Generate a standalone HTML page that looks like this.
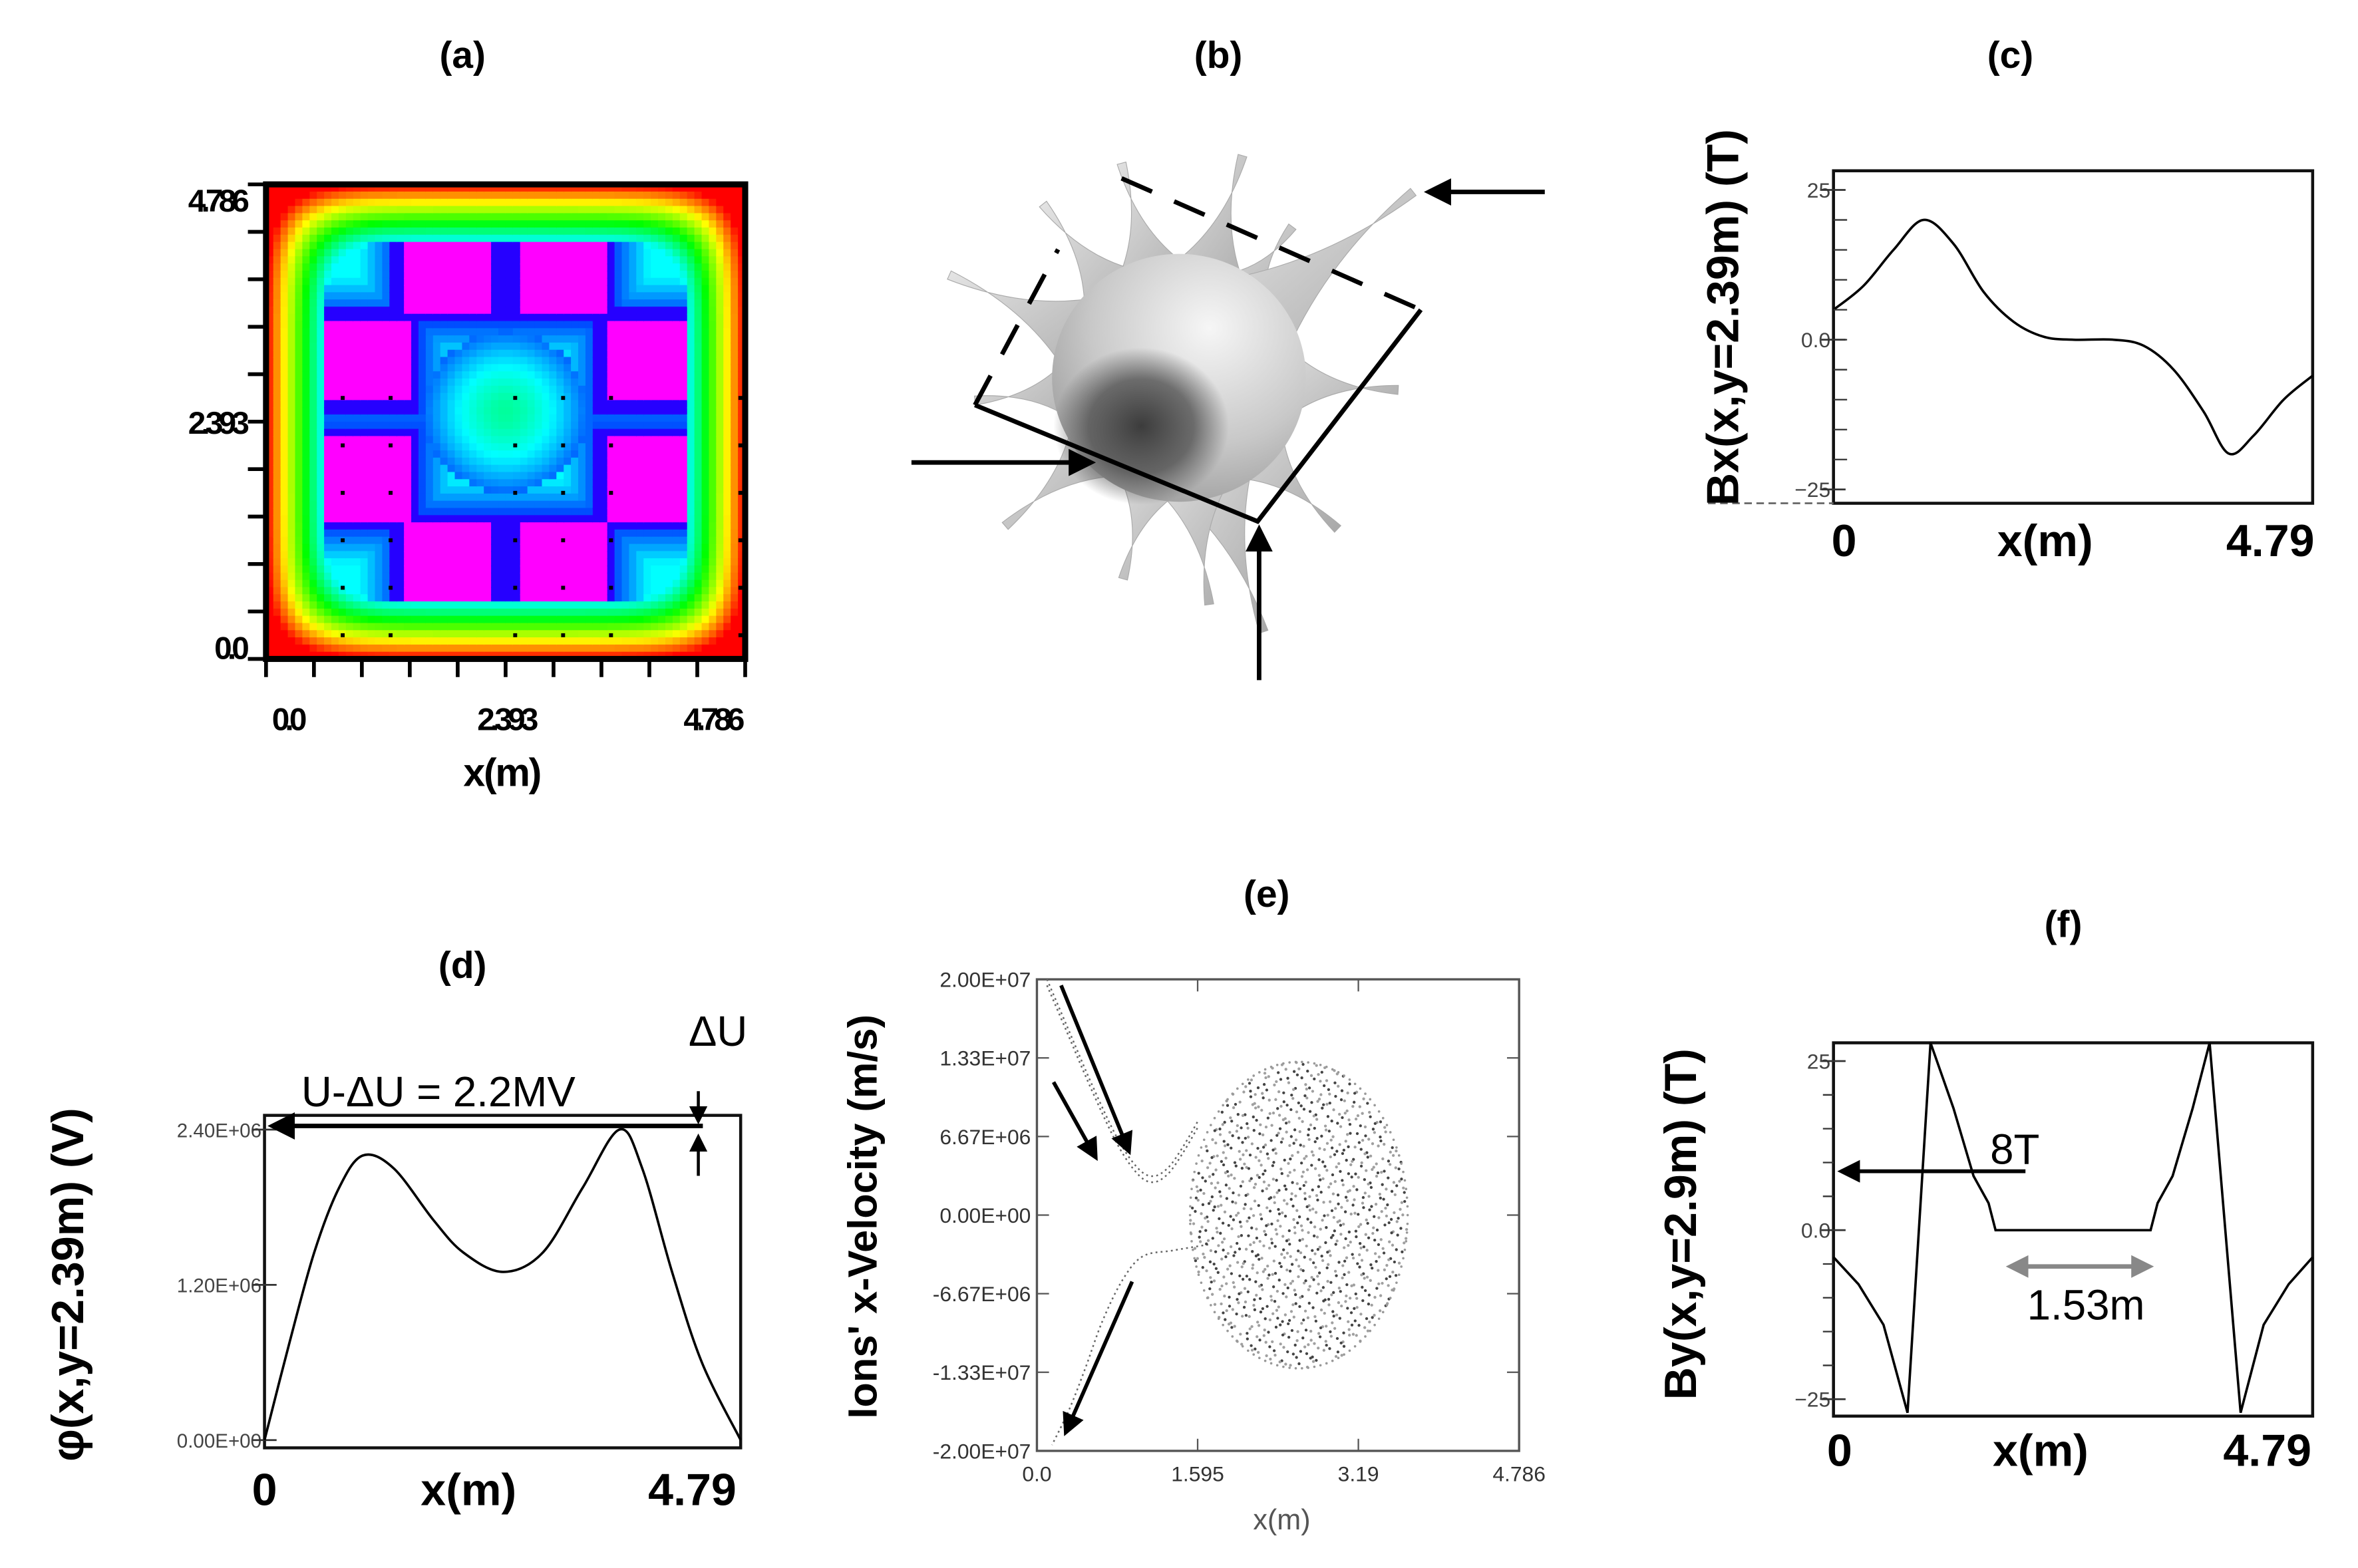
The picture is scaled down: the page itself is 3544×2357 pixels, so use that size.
<!DOCTYPE html>
<html><head><meta charset="utf-8"><style>
html,body{margin:0;padding:0;background:#fff;width:3544px;height:2357px;overflow:hidden}
svg{display:block}
text{font-family:"Liberation Sans",Arial,sans-serif}
.t{font-weight:bold;font-size:25px}
.big{font-weight:bold;font-size:30px}
</style></head><body>
<svg id="fig" width="3544" height="2357" viewBox="0 0 1560 1037.5" preserveAspectRatio="none" xmlns="http://www.w3.org/2000/svg">
<defs>
<radialGradient id="gb" cx="0.62" cy="0.3" r="0.85"><stop offset="0" stop-color="#f6f6f6"/><stop offset="0.55" stop-color="#c8c8c8"/><stop offset="1" stop-color="#909090"/></radialGradient>
<radialGradient id="gs" cx="0.5" cy="0.5" r="0.5"><stop offset="0" stop-color="#3c3c3c"/><stop offset="0.6" stop-color="#4a4a4a" stop-opacity="0.75"/><stop offset="1" stop-color="#4a4a4a" stop-opacity="0"/></radialGradient>
<linearGradient id="gsp" x1="0" y1="0" x2="1" y2="1"><stop offset="0" stop-color="#e4e4e4"/><stop offset="1" stop-color="#a8a8a8"/></linearGradient>
<marker id="ah" markerWidth="6" markerHeight="6" refX="5" refY="3" orient="auto" markerUnits="strokeWidth"><path d="M0,0 L6,3 L0,6 z" fill="#000"/></marker>
<marker id="ahg" markerWidth="5" markerHeight="5" refX="4" refY="2.5" orient="auto-start-reverse" markerUnits="strokeWidth"><path d="M0,0 L5,2.5 L0,5 z" fill="#888"/></marker>
</defs>

<text class="t" x="306" y="45" text-anchor="middle">(a)</text>
<text class="t" x="806" y="45" text-anchor="middle">(b)</text>
<text class="t" x="1330" y="45" text-anchor="middle">(c)</text>
<text class="t" x="306" y="647" text-anchor="middle">(d)</text>
<text class="t" x="838" y="600" text-anchor="middle">(e)</text>
<text class="t" x="1365" y="620" text-anchor="middle">(f)</text>

<g id="pa"></g>
<text class="t" x="332" y="520" text-anchor="middle" style="font-size:26px;letter-spacing:-1px">x(m)</text>

<g id="pb"></g>

<g id="pc"></g>
<text class="big" transform="translate(1150,210) rotate(-90)" text-anchor="middle">Bx(x,y=2.39m) (T)</text>
<text class="big" x="1220" y="368" text-anchor="middle">0</text>
<text class="big" x="1353" y="368" text-anchor="middle">x(m)</text>
<text class="big" x="1502" y="368" text-anchor="middle">4.79</text>

<g id="pd"></g>
<text class="big" transform="translate(55,850) rotate(-90)" text-anchor="middle">φ(x,y=2.39m) (V)</text>
<text class="big" x="175" y="996" text-anchor="middle">0</text>
<text class="big" x="310" y="996" text-anchor="middle">x(m)</text>
<text class="big" x="458" y="996" text-anchor="middle">4.79</text>
<text x="290" y="732" text-anchor="middle" style="font-size:28px">U-ΔU = 2.2MV</text>
<text x="475" y="692" text-anchor="middle" style="font-size:28px">ΔU</text>

<g id="pe"></g>
<text transform="translate(580,805) rotate(-90)" text-anchor="middle" style="font-weight:bold;font-size:27px">Ions' x-Velocity (m/s)</text>
<text x="848" y="1012" text-anchor="middle" style="font-size:19px;fill:#555">x(m)</text>

<g id="pf"></g>
<text class="big" transform="translate(1122,810) rotate(-90)" text-anchor="middle">By(x,y=2.9m) (T)</text>
<text class="big" x="1217" y="970" text-anchor="middle">0</text>
<text class="big" x="1350" y="970" text-anchor="middle">x(m)</text>
<text class="big" x="1500" y="970" text-anchor="middle">4.79</text>
<text x="1333" y="770" text-anchor="middle" style="font-size:28px">8T</text>
<text x="1380" y="873" text-anchor="middle" style="font-size:28px">1.53m</text>
</svg>
<script>
// ---------- data ----------
const cXs = [0,0.3,0.6,0.9,1.2,1.5,1.8,2.1,2.4,2.8,3.1,3.4,3.7,3.95,4.2,4.5,4.79];
const cVals = [5,9,15,20,16,8,3,0.5,0,0,-1,-5,-12,-19,-16,-10,-6];
const cTicks = ["25","0.0","−25"];
const dXs = [0,0.25,0.5,0.75,0.99,1.3,1.7,2.0,2.4,2.8,3.2,3.57,3.8,4.1,4.4,4.79];
const dVals = [0,0.75,1.45,1.95,2.2,2.1,1.7,1.45,1.3,1.45,1.95,2.4,2.1,1.3,0.6,0];
const dTicks = ["2.40E+06","1.20E+06","0.00E+00"];
const fXs = [0,0.25,0.5,0.74,0.97,1.2,1.4,1.55,1.62,3.17,3.24,3.39,3.59,3.76,4.07,4.3,4.55,4.79];
const fVals = [-4,-8,-14,-27,28,18,8,4,0,0,4,8,18,28,-27,-14,-8,-4];
const fTicks = ["25","0.0","−25"];
const eYTicks = ["2.00E+07","1.33E+07","6.67E+06","0.00E+00","-6.67E+06","-1.33E+07","-2.00E+07"];
const eXTicks = ["0.0","1.595","3.19","4.786"];
const eUpperX = [0.1,0.3,0.55,0.8,1.0,1.15,1.3,1.45,1.6];
const eUpperV = [2.0e7,1.6e7,1.1e7,0.65e7,0.4e7,0.33e7,0.4e7,0.58e7,0.8e7];
const eLowerX = [1.7,1.35,1.05,0.85,0.65,0.48,0.32,0.15];
const eLowerV = [-0.25e7,-0.3e7,-0.35e7,-0.55e7,-0.9e7,-1.3e7,-1.65e7,-1.95e7];
const eCloudCenter = [2.6,0.0];
const eCloudRadius = [1.08,1.3e7];
const aBlobU = [0.38,0.615,0.21,0.21,0.80,0.80,0.38,0.615];
const aBlobV = [0.185,0.185,0.375,0.62,0.375,0.62,0.80,0.80];

const NS="http://www.w3.org/2000/svg";
function mk(parent,tag,attrs){const e=document.createElementNS(NS,tag);for(const k in attrs)e.setAttribute(k,attrs[k]);parent.appendChild(e);return e;}
function smooth(pts){let d="M"+pts[0][0]+","+pts[0][1];for(let i=0;i<pts.length-1;i++){const p0=pts[Math.max(0,i-1)],p1=pts[i],p2=pts[i+1],p3=pts[Math.min(pts.length-1,i+2)];d+=" C"+(p1[0]+(p2[0]-p0[0])/6)+","+(p1[1]+(p2[1]-p0[1])/6)+" "+(p2[0]-(p3[0]-p1[0])/6)+","+(p2[1]-(p3[1]-p1[1])/6)+" "+p2[0]+","+p2[1];}return d;}

// ---------- panel a: heatmap ----------
(function(){
 const g=document.getElementById('pa');const L=176,T=122,W=317,H=314,N=66;
 function field(u,v){
  const au=Math.abs(u-0.5),av=Math.abs(v-0.5),p=7;
  const ed=0.5-Math.pow(Math.pow(au,p)+Math.pow(av,p),1/p);
  let d=9;
  for(let i=0;i<aBlobU.length;i++){const dd=Math.max(Math.abs(u-aBlobU[i])-0.09,Math.abs(v-aBlobV[i])-0.085);d=Math.min(d,dd);}
  let gv;
  if(d<=0)gv=1;else if(d<0.025)gv=0.83;else gv=Math.max(0.6,0.74-(d-0.025)*2);
  const r=Math.hypot(u-0.5,v-0.48);
  if(r<0.17)gv=0.52+Math.pow(r/0.17,1.5)*0.2;
  let f=gv;
  if(ed<0.12)f=Math.min(Math.max(ed,0)/0.12*0.6,gv);
  return f;}
 for(let i=0;i<N;i++)for(let j=0;j<N;j++){const f=field((i+0.5)/N,(j+0.5)/N);
  const h=Math.round(f*300);
  const r=mk(g,'rect',{x:L+i*W/N,y:T+j*H/N,width:W/N+0.6,height:H/N+0.6,fill:'hsl('+h+',100%,50%)'});
  }
 const dotsU=[0.16,0.26,0.52,0.62,0.72,0.99],dotsV=[0.45,0.55,0.65,0.75,0.85,0.95];
 dotsU.forEach(u=>dotsV.forEach(v=>{const c=mk(g,'rect',{x:L+u*W-1.3,y:T+v*H-1.3,width:2.6,height:2.6,fill:'#000'});}));
 mk(g,'rect',{x:L,y:T,width:W,height:H,fill:'none',stroke:'#000','stroke-width':4});
 for(let k=0;k<=10;k++){mk(g,'line',{x1:L-12,x2:L,y1:T+k*H/10,y2:T+k*H/10,stroke:'#000','stroke-width':2.5});mk(g,'line',{x1:L+k*W/10,x2:L+k*W/10,y1:T+H,y2:T+H+12,stroke:'#000','stroke-width':2.5});}
 [["4.786",T+18],["2.393",T+H/2+8],["0.0",T+H]].forEach(a=>{const t=mk(g,'text',{x:L-14,y:a[1],'text-anchor':'end','font-size':21,'font-weight':'bold','letter-spacing':-3});t.textContent=a[0];});
 [["0.0",L+14],["2.393",L+W/2],["4.786",L+W-22]].forEach(a=>{const t=mk(g,'text',{x:a[1],y:T+H+47,'text-anchor':'middle','font-size':21,'font-weight':'bold','letter-spacing':-3});t.textContent=a[0];});
})();

// ---------- panel b ----------
(function(){
 const g=document.getElementById('pb');const cx=780,cy=250;
 const tips=[[742,108],[822,103],[855,150],[935,127],[925,258],[885,350],[836,418],[800,400],[743,383],[665,348],[645,265],[628,182],[690,135]];
 tips.forEach(p=>{const a=Math.atan2(p[1]-cy,p[0]-cx);const rb=70,da=0.5;
  const b1=[cx+rb*Math.cos(a-da),cy+rb*Math.sin(a-da)],b2=[cx+rb*Math.cos(a+da),cy+rb*Math.sin(a+da)];
  const mid=[cx+(p[0]-cx)*0.62,cy+(p[1]-cy)*0.62];
  const s=mk(g,'path',{d:'M'+b1+' Q'+mid+' '+(p[0]-3*Math.sin(a))+','+(p[1]+3*Math.cos(a))+' L'+(p[0]+3*Math.sin(a))+','+(p[1]-3*Math.cos(a))+' Q'+mid+' '+b2+' z',fill:'url(#gsp)',stroke:'#aaa','stroke-width':0.5});
  });
 const body=mk(g,'ellipse',{cx:cx,cy:cy,rx:84,ry:82,fill:'url(#gb)'});
 
 mk(g,'ellipse',{cx:755,cy:282,rx:58,ry:52,fill:'url(#gs)'});
 mk(g,'path',{d:'M645,268 L700,165 M742,118 L940,205',stroke:'#000','stroke-width':3,fill:'none','stroke-dasharray':'22,16'});
 mk(g,'path',{d:'M645,268 L832,345 L940,205',stroke:'#000','stroke-width':3,fill:'none'});
 mk(g,'line',{x1:1022,y1:127,x2:945,y2:127,stroke:'#000','stroke-width':3,'marker-end':'url(#ah)'});
 mk(g,'line',{x1:603,y1:306,x2:722,y2:306,stroke:'#000','stroke-width':3,'marker-end':'url(#ah)'});
 mk(g,'line',{x1:833,y1:450,x2:833,y2:350,stroke:'#000','stroke-width':3,'marker-end':'url(#ah)'});
})();

function lineChart(id,box,xmax,vmin,vmax,xs,vs,ticks,tickVals,tickFont,smoothIt){
 const g=document.getElementById(id);const [L,T,R,B]=box;
 const X=x=>L+x/xmax*(R-L);const Y=v=>B-(v-vmin)/(vmax-vmin)*(B-T);
 mk(g,'rect',{x:L,y:T,width:R-L,height:B-T,fill:'none',stroke:'#111','stroke-width':2});
 ticks.forEach((t,i)=>{const y=Y(tickVals[i]);const e=mk(g,'text',{x:L-2,y:y+5,'text-anchor':'end','font-size':tickFont,fill:'#444'});e.textContent=t;mk(g,'line',{x1:L-8,x2:L+8,y1:y,y2:y,stroke:'#333','stroke-width':1.2});});
 const pts=xs.map((x,i)=>[X(x),Y(vs[i])]);
 const p=mk(g,'path',{d:smoothIt?smooth(pts):'M'+pts.map(q=>q.join(',')).join(' L'),fill:'none',stroke:'#000','stroke-width':1.6});
 
 return {g,X,Y};}

(function(){const o=lineChart('pc',[1213,113,1530,333],4.79,-27.3,28.2,cXs,cVals,cTicks,[25,0,-25],14,true);
 for(let v=-20;v<=20;v+=5)mk(o.g,'line',{x1:1213,x2:1222,y1:o.Y(v),y2:o.Y(v),stroke:'#333','stroke-width':1});
 mk(o.g,'line',{x1:1130,x2:1213,y1:333,y2:333,stroke:'#666','stroke-width':1.2,'stroke-dasharray':'5,3'});})();

(function(){const o=lineChart('pd',[175,738,490,958],4.79,-0.06,2.51,dXs,dVals,dTicks,[2.4,1.2,0],13,true);
 mk(o.g,'line',{x1:465,y1:745,x2:180,y2:745,stroke:'#000','stroke-width':3,'marker-end':'url(#ah)'});
 mk(o.g,'line',{x1:462,y1:722,x2:462,y2:742,stroke:'#000','stroke-width':2,'marker-end':'url(#ah)'});
 mk(o.g,'line',{x1:462,y1:778,x2:462,y2:752,stroke:'#000','stroke-width':2,'marker-end':'url(#ah)'});})();

(function(){const o=lineChart('pf',[1213,690,1530,937],4.79,-27.5,27.7,fXs,fVals,fTicks,[25,0,-25],14,false);
 o.g.querySelector('path').setAttribute('d','M'+fXs.map((x,i)=>o.X(x)+','+Math.max(690,Math.min(937,o.Y(fVals[i])))).join(' L'));
 for(let v=-20;v<=20;v+=5)mk(o.g,'line',{x1:1206,x2:1213,y1:o.Y(v),y2:o.Y(v),stroke:'#333','stroke-width':1});
 mk(o.g,'line',{x1:1340,y1:775,x2:1218,y2:775,stroke:'#000','stroke-width':2.5,'marker-end':'url(#ah)'});
 mk(o.g,'line',{x1:1330,y1:838,x2:1422,y2:838,stroke:'#888','stroke-width':3,'marker-end':'url(#ahg)','marker-start':'url(#ahg)'});})();

(function(){const g=document.getElementById('pe');const L=686,T=648,R=1005,B=960;
 const X=x=>L+x/4.786*(R-L);const Y=v=>(T+B)/2-v/2e7*(B-T)/2;
 mk(g,'rect',{x:L,y:T,width:R-L,height:B-T,fill:'none',stroke:'#555','stroke-width':1.5});
 eYTicks.forEach((t,i)=>{const y=T+i*(B-T)/6;const e=mk(g,'text',{x:L-4,y:y+5,'text-anchor':'end','font-size':14,fill:'#333'});e.textContent=t;mk(g,'line',{x1:L,x2:L+8,y1:y,y2:y,stroke:'#555'});mk(g,'line',{x1:R,x2:R-8,y1:y,y2:y,stroke:'#555'});});
 eXTicks.forEach((t,i)=>{const x=L+i*(R-L)/3;const e=mk(g,'text',{x:x,y:B+20,'text-anchor':'middle','font-size':14,fill:'#333'});e.textContent=t;mk(g,'line',{x1:x,x2:x,y1:B,y2:B-8,stroke:'#555'});mk(g,'line',{x1:x,x2:x,y1:T,y2:T+8,stroke:'#555'});});
 function halton(i,b){let f=1,r=0;while(i>0){f/=b;r+=f*(i%b);i=Math.floor(i/b);}return r;}
 function stream(xs,vs,off){const pts=xs.map((x,i)=>[X(x),Y(vs[i])+off]);
   const p=mk(g,'path',{d:smooth(pts),fill:'none',stroke:'#666','stroke-width':1.1,'stroke-dasharray':'1.2,2.2'});}
 stream(eUpperX,eUpperV,0);stream(eUpperX,eUpperV,4);stream(eLowerX,eLowerV,0);
 let cnt=0;
 for(let i=1;cnt<1000;i++){const a=halton(i,2)*2-1,b=halton(i,3)*2-1;if(a*a+b*b>1)continue;cnt++;
   const x=eCloudCenter[0]+eCloudRadius[0]*a,v=eCloudCenter[1]+eCloudRadius[1]*b;
   const shade=((i*7919)%11)<5?'#444':'#a0a0a0';
   const c=mk(g,'circle',{cx:X(x),cy:Y(v),r:0.95,fill:shade});}
 for(let k=0;k<110;k++){const t=k/110*2*Math.PI;const c=mk(g,'circle',{cx:X(eCloudCenter[0]+eCloudRadius[0]*Math.cos(t)),cy:Y(eCloudCenter[1]+eCloudRadius[1]*Math.sin(t)),r:0.8,fill:'#999'});}
 mk(g,'line',{x1:702,y1:652,x2:747,y2:762,stroke:'#000','stroke-width':2.5,'marker-end':'url(#ah)'});
 mk(g,'line',{x1:697,y1:716,x2:725,y2:766,stroke:'#000','stroke-width':2.5,'marker-end':'url(#ah)'});
 mk(g,'line',{x1:749,y1:848,x2:705,y2:948,stroke:'#000','stroke-width':2.5,'marker-end':'url(#ah)'});
})();
</script>
</body></html>
